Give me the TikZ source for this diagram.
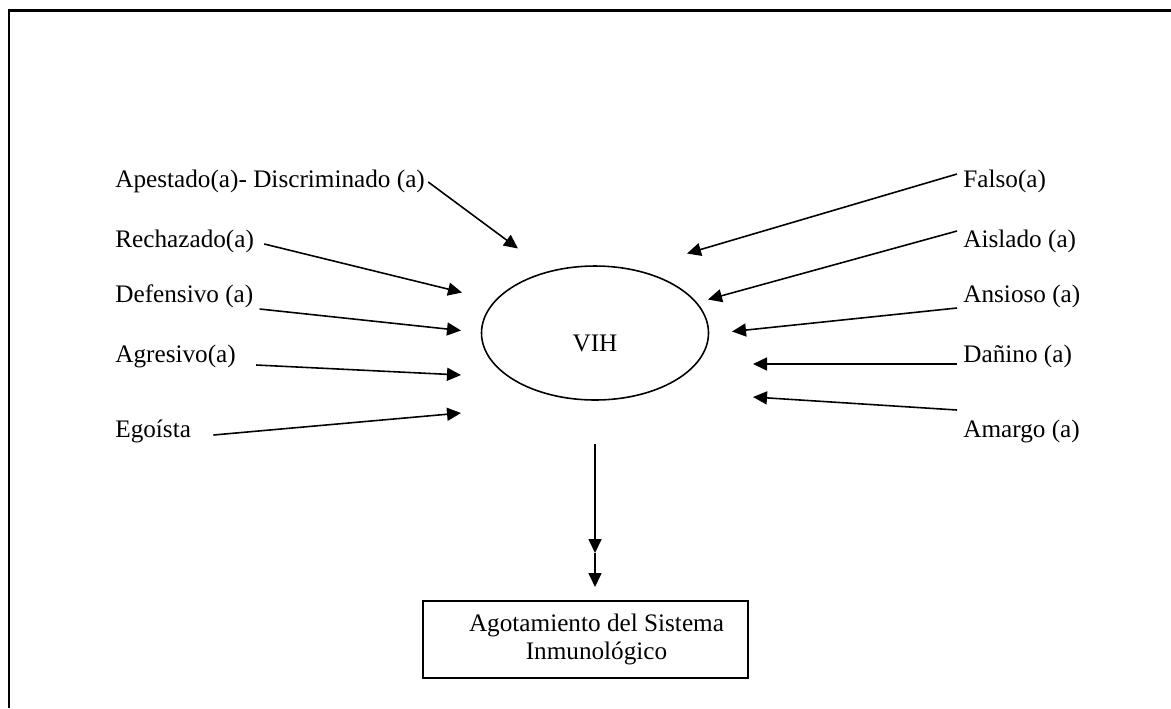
\documentclass[tikz,border=0pt]{standalone}
\usepackage{fontspec}
\setmainfont{Liberation Serif}
\usetikzlibrary{arrows.meta,shapes.geometric}
\tikzset{
  arr/.style={line width=0.9pt, -{Triangle[length=0.28cm,width=0.26cm]}},
  lbl/.style={inner sep=0pt},
}
\begin{document}
\begin{tikzpicture}[font=\fontsize{14.35}{16.1}\selectfont]
                \useasboundingbox (0,0) rectangle (23.42,-14.16);
                \draw[line width=1.3pt] (23.42,-0.21) -- (0.18,-0.21) -- (0.18,-14.16);
                \node[ellipse, draw, line width=0.9pt, minimum width=4.54cm, minimum height=2.68cm, inner sep=0pt, text height=0.735cm, text depth=0cm] (vih) at (11.90,-6.66) {VIH};
                % left side
                \node[lbl, anchor=base west] (apest) at (2.30,-3.74) {Apestado(a)- Discriminado (a)};
                \node[lbl, anchor=base west] (rech) at (2.30,-4.94) {Rechazado(a)};
                \node[lbl, anchor=base west] (defen) at (2.30,-6.04) {Defensivo (a)};
                \node[lbl, anchor=base west] (agres) at (2.30,-7.24) {Agresivo(a)};
                \node[lbl, anchor=base west] (egoi) at (2.30,-8.74) {Egoísta};
                % right side
                \node[lbl, anchor=base west] (falso) at (19.26,-3.74) {Falso(a)};
                \node[lbl, anchor=base west] (aisl) at (19.26,-4.94) {Aislado (a)};
                \node[lbl, anchor=base west] (ansi) at (19.26,-6.04) {Ansioso (a)};
                \node[lbl, anchor=base west] (danino) at (19.26,-7.24) {Dañino (a)};
                \node[lbl, anchor=base west] (amargo) at (19.26,-8.74) {Amargo (a)};
                \coordinate (h-apest) at (10.36,-4.97);
                \coordinate (h-rech) at (9.24,-5.85);
                \coordinate (h-defen) at (9.22,-6.61);
                \coordinate (h-agres) at (9.22,-7.50);
                \coordinate (h-egoi) at (9.22,-8.26);
                \coordinate (h-falso) at (13.74,-5.07);
                \coordinate (h-aisl) at (14.16,-5.99);
                \coordinate (h-ansi) at (14.64,-6.63);
                \coordinate (h-danino) at (15.06,-7.28);
                \coordinate (h-amargo) at (15.06,-7.94);
                \draw[arr] ([shift={(0.06,0.10)}]apest.base east) -- (h-apest);
                \draw[arr] ([shift={(0.20,0.06)}]rech.base east) -- (h-rech);
                \draw[arr] ([shift={(0.12,-0.14)}]defen.base east) -- (h-defen);
                \draw[arr] ([shift={(0.40,-0.06)}]agres.base east) -- (h-agres);
                \draw[arr] ([shift={(0.44,0.04)}]egoi.base east) -- (h-egoi);
                \draw[arr] ([shift={(-0.12,0.26)}]falso.base west) -- (h-falso);
                \draw[arr] ([shift={(-0.12,0.32)}]aisl.base west) -- (h-aisl);
                \draw[arr] ([shift={(-0.12,-0.12)}]ansi.base west) -- (h-ansi);
                \draw[arr] ([shift={(-0.12,-0.04)}]danino.base west) -- (h-danino);
                \draw[arr] ([shift={(-0.12,0.54)}]amargo.base west) -- (h-amargo);
                % bottom
                \node[draw, line width=1.1pt, minimum width=6.5cm, minimum height=1.54cm, align=center, inner sep=0pt] (sist) at (11.71,-12.79) {\hspace*{0.44cm}Agotamiento del Sistema\\\hspace*{0.44cm}Inmunológico};
                \coordinate (mid) at (11.90,-11.06);
                \draw[arr] ([yshift=-0.86cm]vih.south) -- (mid);
                \draw[arr] (mid) -- ++(0,-0.68);
\end{tikzpicture}
\end{document}
